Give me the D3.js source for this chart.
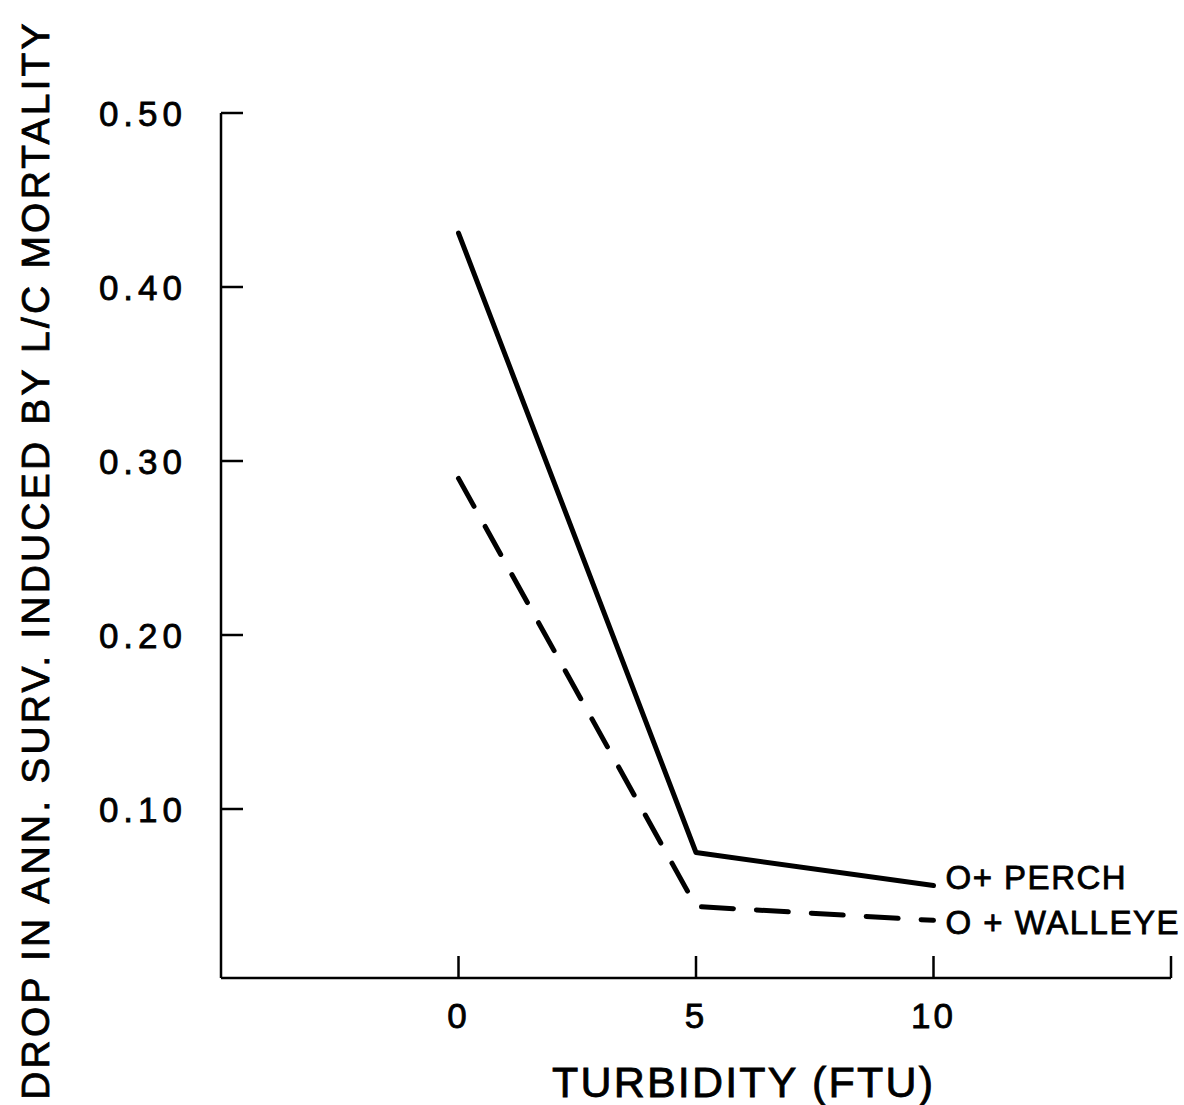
<!DOCTYPE html>
<html>
<head>
<meta charset="utf-8">
<script src="https://cdn.jsdelivr.net/npm/d3@7"></script>
<style>
  body { margin: 0; background: #fff; }
  text { font-family: "Liberation Sans", Arial, sans-serif; fill: #000; stroke: #000; stroke-width: 0.8px; }
</style>
</head>
<body>
<script>
// values
const turbidity = [0, 5, 10];
const perch = [0.431, 0.075, 0.056];
const walleye = [0.290, 0.044, 0.036];
const seriesNames = ['O+ PERCH', 'O + WALLEYE'];
const yTicks = [0.10, 0.20, 0.30, 0.40, 0.50];
const xTicks = [0, 5, 10];

const w = 1184, h = 1105;

const x = d3.scaleLinear([-5, 15], [221, 1171]);
const y = d3.scaleLinear([0, 0.5], [983, 113]);
const axisY = 978;

const svg = d3.select('body').append('svg')
  .attr('width', w)
  .attr('height', h);

// y axis: line from top tick down to x axis, ticks pointing inward
svg.append('line')
  .attr('x1', x(-5)).attr('x2', x(-5))
  .attr('y1', y(0.5)).attr('y2', axisY)
  .attr('stroke', '#000').attr('stroke-width', 2.5);

svg.selectAll('.ytick')
  .data(yTicks)
  .enter().append('line')
  .attr('class', 'ytick')
  .attr('x1', x(-5)).attr('x2', x(-5) + 22)
  .attr('y1', d => y(d)).attr('y2', d => y(d))
  .attr('stroke', '#000').attr('stroke-width', 2.5);

svg.selectAll('.ylab')
  .data(yTicks)
  .enter().append('text')
  .attr('class', 'ylab')
  .attr('x', x(-5) - 34)
  .attr('y', d => y(d))
  .attr('dy', '0.36em')
  .attr('text-anchor', 'end')
  .style('font-size', '35px')
  .style('letter-spacing', '5px')
  .text(d => d3.format('.2f')(d));

// x axis
svg.append('line')
  .attr('x1', x(-5)).attr('x2', x(15))
  .attr('y1', axisY).attr('y2', axisY)
  .attr('stroke', '#000').attr('stroke-width', 2.5);

svg.selectAll('.xtick')
  .data(xTicks.concat([15]))
  .enter().append('line')
  .attr('class', 'xtick')
  .attr('x1', d => x(d)).attr('x2', d => x(d))
  .attr('y1', axisY).attr('y2', axisY - 22)
  .attr('stroke', '#000').attr('stroke-width', 2.5);

svg.selectAll('.xlab')
  .data(xTicks)
  .enter().append('text')
  .attr('class', 'xlab')
  .attr('x', d => x(d))
  .attr('y', 1015)
  .attr('dy', '0.36em')
  .attr('text-anchor', 'middle')
  .style('font-size', '35px')
  .style('letter-spacing', '3px')
  .text(d => d);

// titles
svg.append('text')
  .attr('x', 552)
  .attr('y', 1097)
  .attr('textLength', 381)
  .attr('lengthAdjust', 'spacing')
  .style('font-size', '43px')
  .text('TURBIDITY (FTU)');

svg.append('text')
  .attr('transform', 'translate(49,560) rotate(-90)')
  .attr('text-anchor', 'middle')
  .style('font-size', '39px')
  .style('letter-spacing', '3.2px')
  .text('DROP IN ANN. SURV. INDUCED BY L/C MORTALITY');

// lines
const line = d3.line()
  .x(d => x(d[0]))
  .y(d => y(d[1]));

svg.append('path')
  .datum(d3.zip(turbidity, perch))
  .attr('d', line)
  .attr('fill', 'none')
  .attr('stroke', '#000')
  .attr('stroke-width', 5)
  .attr('stroke-linejoin', 'round')
  .attr('stroke-linecap', 'round');

svg.append('path')
  .datum(d3.zip(turbidity, walleye))
  .attr('d', line)
  .attr('fill', 'none')
  .attr('stroke', '#000')
  .attr('stroke-width', 5)
  .attr('stroke-dasharray', '32 23')
  .attr('stroke-linejoin', 'round')
  .attr('stroke-linecap', 'round');

// series labels at line ends
svg.selectAll('.slab')
  .data([perch, walleye])
  .enter().append('text')
  .attr('class', 'slab')
  .attr('x', x(10) + 12)
  .attr('y', (d, i) => y(d[2]) - (i === 0 ? 8 : -2))
  .attr('dy', '0.36em')
  .style('font-size', '33px')
  .style('letter-spacing', '1.5px')
  .text((d, i) => seriesNames[i]);
</script>
</body>
</html>
